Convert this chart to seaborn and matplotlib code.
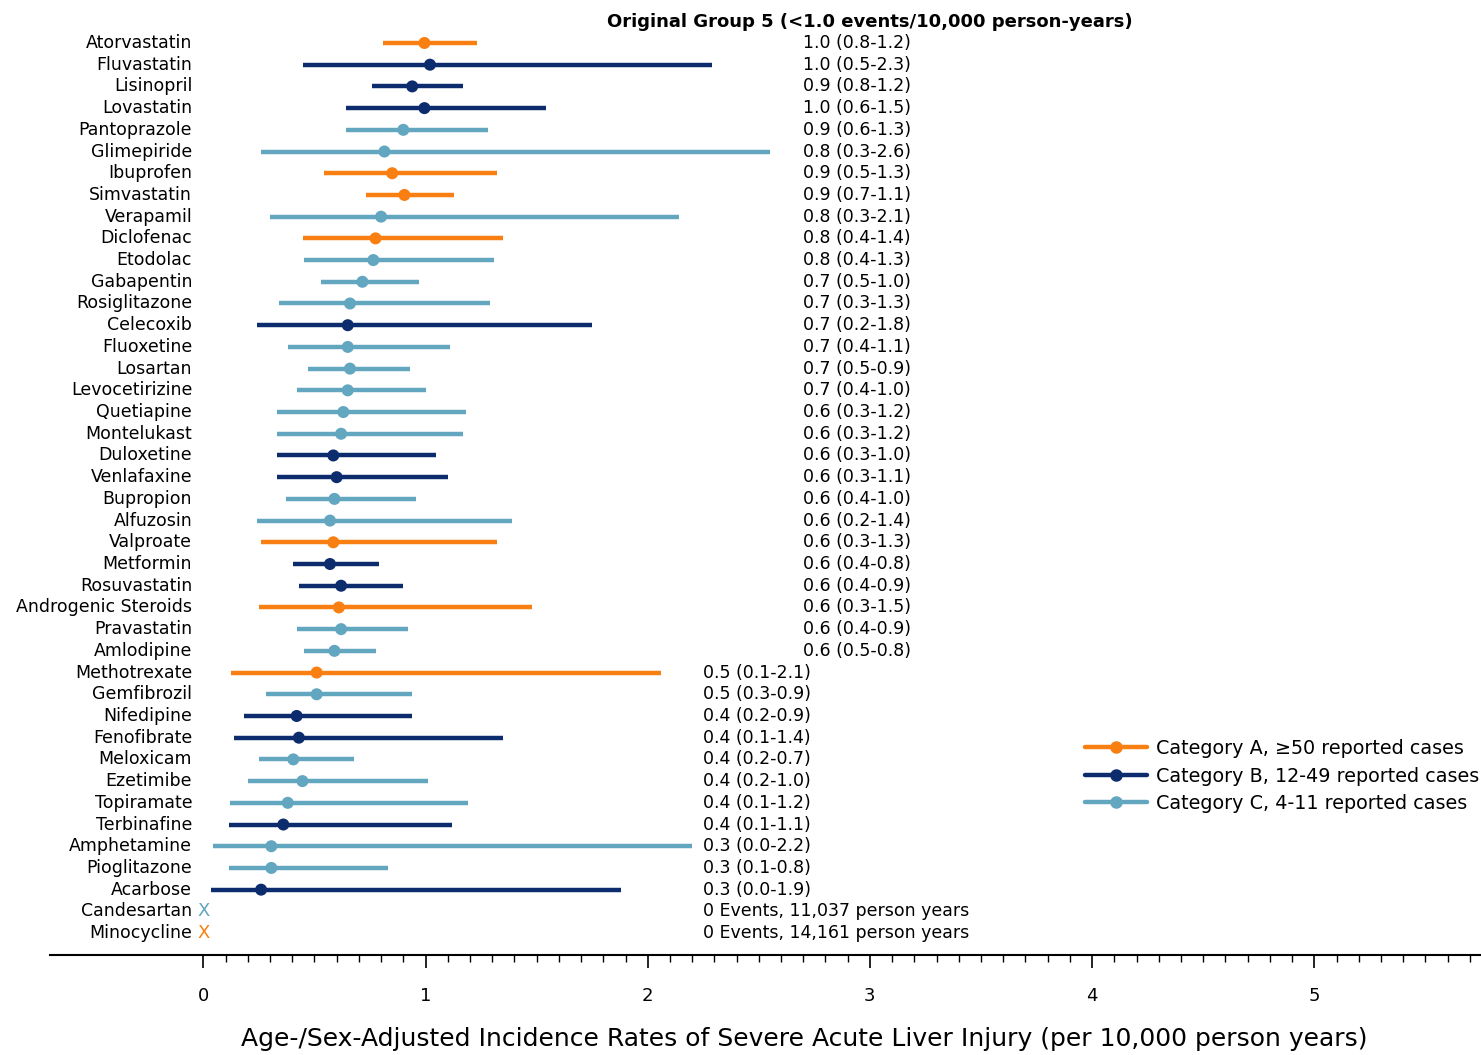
import matplotlib
matplotlib.use('Agg')
import matplotlib.pyplot as plt
from matplotlib.lines import Line2D
from matplotlib.ticker import FixedLocator
import numpy as np
import pandas as pd
import seaborn as sns

# Data
drugs = ['Atorvastatin', 'Fluvastatin', 'Lisinopril', 'Lovastatin', 'Pantoprazole',
         'Glimepiride', 'Ibuprofen', 'Simvastatin', 'Verapamil', 'Diclofenac',
         'Etodolac', 'Gabapentin', 'Rosiglitazone', 'Celecoxib', 'Fluoxetine',
         'Losartan', 'Levocetirizine', 'Quetiapine', 'Montelukast', 'Duloxetine',
         'Venlafaxine', 'Bupropion', 'Alfuzosin', 'Valproate', 'Metformin',
         'Rosuvastatin', 'Androgenic Steroids', 'Pravastatin', 'Amlodipine', 'Methotrexate',
         'Gemfibrozil', 'Nifedipine', 'Fenofibrate', 'Meloxicam', 'Ezetimibe',
         'Topiramate', 'Terbinafine', 'Amphetamine', 'Pioglitazone', 'Acarbose']
category = ['A', 'B', 'B', 'B', 'C', 'C', 'A', 'A', 'C', 'A',
            'C', 'C', 'C', 'B', 'C', 'C', 'C', 'C', 'C', 'B',
            'B', 'C', 'C', 'A', 'B', 'B', 'A', 'C', 'C', 'A',
            'C', 'B', 'B', 'C', 'C', 'C', 'B', 'C', 'C', 'B']
rate = [0.995, 1.02, 0.94, 0.995, 0.90, 0.815, 0.85, 0.905, 0.80, 0.775,
        0.765, 0.716, 0.66, 0.65, 0.65, 0.66, 0.65, 0.63, 0.62, 0.585,
        0.60, 0.59, 0.57, 0.585, 0.57, 0.62, 0.61, 0.62, 0.59, 0.51,
        0.51, 0.42, 0.43, 0.405, 0.446, 0.38, 0.36, 0.306, 0.306, 0.26]
lower = [0.81, 0.45, 0.76, 0.64, 0.64, 0.26, 0.545, 0.73, 0.30, 0.45,
         0.455, 0.53, 0.34, 0.24, 0.38, 0.47, 0.42, 0.33, 0.33, 0.33,
         0.33, 0.37, 0.24, 0.26, 0.405, 0.43, 0.25, 0.42, 0.455, 0.126,
         0.28, 0.185, 0.14, 0.25, 0.20, 0.12, 0.117, 0.045, 0.117, 0.036]
upper = [1.23, 2.29, 1.17, 1.54, 1.28, 2.55, 1.32, 1.13, 2.14, 1.35,
         1.31, 0.97, 1.29, 1.75, 1.11, 0.93, 1.00, 1.18, 1.17, 1.045,
         1.10, 0.955, 1.39, 1.32, 0.79, 0.90, 1.48, 0.92, 0.775, 2.06,
         0.94, 0.94, 1.35, 0.68, 1.01, 1.19, 1.12, 2.20, 0.83, 1.88]
labels = ['1.0 (0.8-1.2)', '1.0 (0.5-2.3)', '0.9 (0.8-1.2)', '1.0 (0.6-1.5)', '0.9 (0.6-1.3)',
          '0.8 (0.3-2.6)', '0.9 (0.5-1.3)', '0.9 (0.7-1.1)', '0.8 (0.3-2.1)', '0.8 (0.4-1.4)',
          '0.8 (0.4-1.3)', '0.7 (0.5-1.0)', '0.7 (0.3-1.3)', '0.7 (0.2-1.8)', '0.7 (0.4-1.1)',
          '0.7 (0.5-0.9)', '0.7 (0.4-1.0)', '0.6 (0.3-1.2)', '0.6 (0.3-1.2)', '0.6 (0.3-1.0)',
          '0.6 (0.3-1.1)', '0.6 (0.4-1.0)', '0.6 (0.2-1.4)', '0.6 (0.3-1.3)', '0.6 (0.4-0.8)',
          '0.6 (0.4-0.9)', '0.6 (0.3-1.5)', '0.6 (0.4-0.9)', '0.6 (0.5-0.8)', '0.5 (0.1-2.1)',
          '0.5 (0.3-0.9)', '0.4 (0.2-0.9)', '0.4 (0.1-1.4)', '0.4 (0.2-0.7)', '0.4 (0.2-1.0)',
          '0.4 (0.1-1.2)', '0.4 (0.1-1.1)', '0.3 (0.0-2.2)', '0.3 (0.1-0.8)', '0.3 (0.0-1.9)']

zero_drugs = ['Candesartan', 'Minocycline']
zero_category = ['C', 'A']
zero_labels = ['0 Events, 11,037 person years', '0 Events, 14,161 person years']

legend_labels = {'A': 'Category A, \u226550 reported cases',
                 'B': 'Category B, 12-49 reported cases',
                 'C': 'Category C, 4-11 reported cases'}
palette = {'A': '#F97F12', 'B': '#0C2C6E', 'C': '#62A6C0'}

df = pd.DataFrame({'drug': drugs, 'cat': category, 'rate': rate,
                   'lo': lower, 'hi': upper, 'label': labels})
df['row'] = range(len(df))

sns.set_style('white')
plt.rcParams['font.family'] = ['DejaVu Sans']
plt.rcParams['text.color'] = 'black'
plt.rcParams['xtick.color'] = 'black'
plt.rcParams['axes.labelcolor'] = 'black'

fig = plt.figure(figsize=(14.81, 10.55), dpi=100)
ax = fig.add_axes([50 / 1481, 1 - 955 / 1055, 1 - 50 / 1481, 955 / 1055])

# confidence intervals
for _, r in df.iterrows():
    ax.hlines(r['row'], r['lo'], r['hi'], color=palette[r['cat']], lw=3.2, zorder=2)

sns.scatterplot(data=df, x='rate', y='row', hue='cat', palette=palette, s=75,
                edgecolor='none', legend=False, ax=ax, zorder=3)

# drug names and estimate text
for _, r in df.iterrows():
    ax.text(-0.05, r['row'], r['drug'], ha='right', va='center', fontsize=12.5)
    tx = 2.70 if r['rate'] >= 0.55 else 2.25
    ax.text(tx, r['row'], r['label'], ha='left', va='center', fontsize=12.5)

n = len(df)
for i, (d, c, lab) in enumerate(zip(zero_drugs, zero_category, zero_labels)):
    y = n + i
    ax.text(-0.05, y, d, ha='right', va='center', fontsize=12.5)
    ax.text(0.0, y, 'X', ha='center', va='center', fontsize=13, color=palette[c])
    ax.text(2.25, y, lab, ha='left', va='center', fontsize=12.5)

ax.text(3.0, -0.95, 'Original Group 5 (<1.0 events/10,000 person-years)',
        ha='center', va='center', fontsize=13, fontweight='bold')

ax.set_xlim(-0.69, 5.75)
ax.set_ylim(n + 2 + 0.01, -1.98)
ax.set_yticks([])
ax.set_ylabel('')
for s in ['top', 'right', 'left']:
    ax.spines[s].set_visible(False)
ax.spines['bottom'].set_linewidth(1.5)
ax.spines['bottom'].set_color('black')

ax.set_xticks(range(0, 6))
ax.xaxis.set_minor_locator(FixedLocator(np.round(np.arange(0, 5.75, 0.1), 1)))
ax.tick_params(axis='x', which='major', direction='out', length=9, width=1.2,
               bottom=True, pad=14, labelsize=13)
ax.tick_params(axis='x', which='minor', direction='out', length=5, width=1,
               bottom=True)

ax.set_xlabel('Age-/Sex-Adjusted Incidence Rates of Severe Acute Liver Injury (per 10,000 person years)',
              fontsize=18)
ax.xaxis.set_label_coords((804 - 50) / 1431, -(1027 - 955) / 955)

handles = [Line2D([0], [0], color=palette[k], lw=3.2, marker='o', markersize=8)
           for k in ['A', 'B', 'C']]
fig.legend(handles, [legend_labels[k] for k in ['A', 'B', 'C']],
           loc='center left', bbox_to_anchor=(1068 / 1481, 1 - 776 / 1055),
           frameon=False, fontsize=13.8, handlelength=3.2, labelspacing=0.45,
           handletextpad=0.5)

fig.savefig('out.png', dpi=100)
